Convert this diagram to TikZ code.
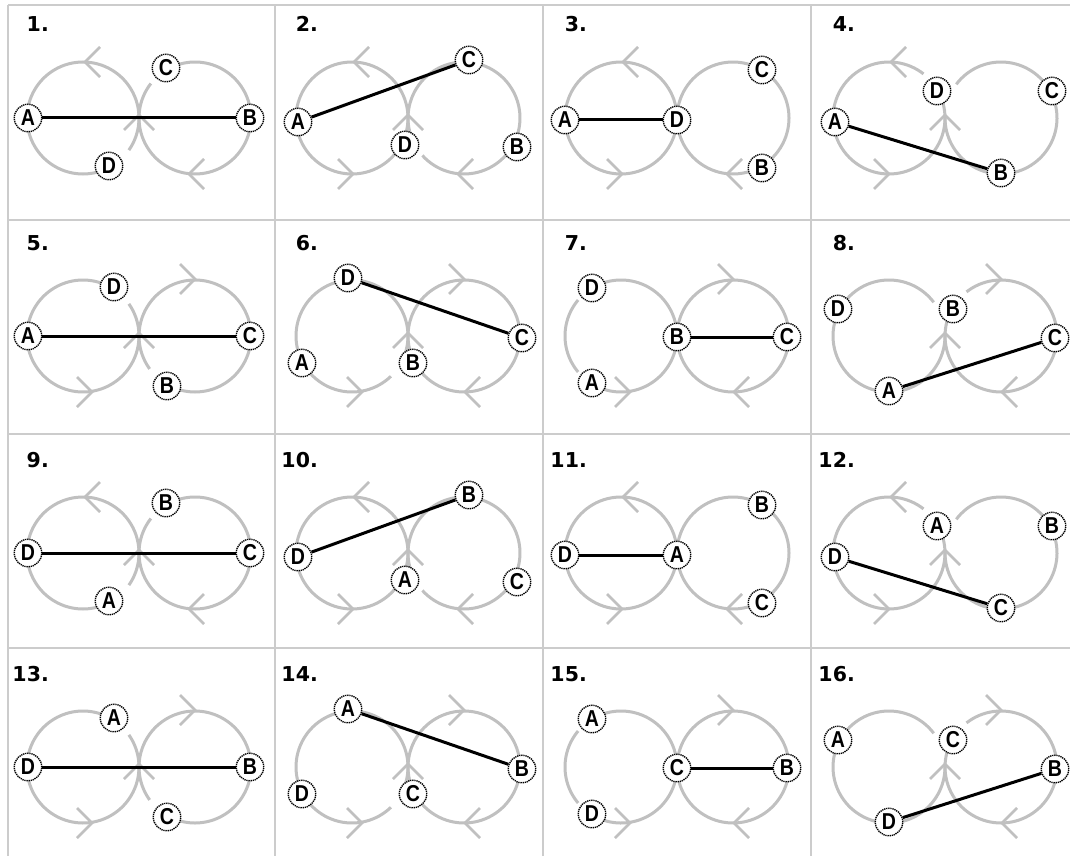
\documentclass[tikz,border=0pt]{standalone}
\usepackage{fontspec}
\newfontfamily\lsans{Liberation Sans}
\newfontfamily\dsans{DejaVu Sans}
\definecolor{trkgray}{RGB}{192,192,192}
\definecolor{gridgray}{RGB}{204,204,204}
\tikzset{
 trk/.style={draw=trkgray, line width=3pt},
 chv/.style={draw=trkgray, line width=2.6pt},
 gridln/.style={draw=gridgray, line width=1.5pt},
 blkline/.style={draw=black, line width=3pt},
 lab/.style={circle, draw=black, fill=white, line width=1.4pt, dash pattern=on 1.3pt off 0.8pt, minimum size=27.5pt, inner sep=0pt, font=\lsans\bfseries\fontsize{23}{23}\selectfont},
 num/.style={font=\dsans\bfseries\fontsize{20.5}{20.5}\selectfont, inner sep=0pt, anchor=base east, text=black}
}
% loop tracks (screen math angles)
\newcommand\trL[2]{\draw[trk] plot[domain=#1:#2,samples=91] ({\cX-56+56*cos(\x)},{\cY-56*sin(\x)});}
\newcommand\trR[2]{\draw[trk] plot[domain=#1:#2,samples=91] ({\cX+56+56*cos(\x)},{\cY-56*sin(\x)});}
% chevrons
\newcommand\chL[2]{\draw[chv] ({\cX+(#1)+15},{\cY+(#2)-15}) -- ({\cX+(#1)},{\cY+(#2)}) -- ({\cX+(#1)+15},{\cY+(#2)+15});}
\newcommand\chR[2]{\draw[chv] ({\cX+(#1)-15},{\cY+(#2)-15}) -- ({\cX+(#1)},{\cY+(#2)}) -- ({\cX+(#1)-15},{\cY+(#2)+15});}
\newcommand\chU{\draw[chv] ({\cX-15},{\cY+12}) -- ({\cX},{\cY-3}) -- ({\cX+15},{\cY+12});}
% labels and chord
\newcommand\mylab[3]{\node[lab] (c\cid#1) at ({\cX+(#2)},{\cY+(#3)}) {\scalebox{0.85}[1]{#1}};}
\newcommand\myline[2]{\draw[blkline] (c\cid#1) -- (c\cid#2);}
% layouts
\newcommand\tyone[4]{\trL{0}{300}\trL{325}{360}\trR{-180}{122}\trR{142}{180}%
 \chL{-54}{-56}\chL{50}{56}\chU
 \mylab{#1}{-111}{0}\mylab{#2}{111}{0}\mylab{#3}{27}{-50}\mylab{#4}{-30}{48}\myline{#1}{#2}}
\newcommand\tytwo[4]{\trL{0}{360}\trR{222}{570}%
 \chL{-54}{-56}\chR{-55}{56}\chL{50}{56}\chU
 \mylab{#1}{-110}{4}\mylab{#2}{61}{-58}\mylab{#3}{-3}{27}\mylab{#4}{109}{29}\myline{#1}{#2}}
\newcommand\tythree[4]{\trL{0}{360}\trR{0}{360}%
 \chL{-54}{-56}\chR{-55}{56}\chL{50}{56}
 \mylab{#1}{-112}{2}\mylab{#2}{0}{2}\mylab{#3}{85}{-48}\mylab{#4}{85}{50}\myline{#1}{#2}}
\newcommand\tyfour[4]{\trL{52}{390}\trR{-180}{143}%
 \chL{-54}{-56}\chR{-56}{56}\chU
 \mylab{#1}{-110}{4}\mylab{#2}{-8}{-27}\mylab{#3}{107}{-27}\mylab{#4}{56}{55}\myline{#1}{#4}}
\newcommand\tyfive[4]{\trL{0}{35}\trL{57}{360}\trR{180}{216}\trR{240}{540}%
 \chR{56}{-57}\chR{-47}{56}\chU
 \mylab{#1}{-111}{0}\mylab{#2}{111}{0}\mylab{#3}{-25}{-49}\mylab{#4}{28}{50}\myline{#1}{#2}}
\newcommand\tysix[4]{\trL{-30}{314}\trR{0}{360}%
 \chR{56}{-57}\chR{-46}{56}\chL{57}{56}\chU
 \mylab{#1}{-60}{-58}\mylab{#2}{114}{2}\mylab{#3}{-106}{27}\mylab{#4}{5}{27}\myline{#1}{#2}}
\newcommand\tyseven[4]{\trL{240}{480}\trL{140}{220}\trR{0}{360}%
 \chR{56}{-57}\chR{-47}{56}\chL{57}{56}
 \mylab{#1}{-85}{-48}\mylab{#2}{0}{1}\mylab{#3}{110}{1}\mylab{#4}{-85}{47}\myline{#2}{#3}}
\newcommand\tyeight[4]{\trL{37}{360}\trR{-210}{128}%
 \chR{56}{-57}\chL{57}{56}\chU
 \mylab{#1}{-107}{-27}\mylab{#2}{8}{-27}\mylab{#3}{110}{2}\mylab{#4}{-56}{55}\myline{#4}{#3}}
\newcommand\cellx[8]{\def\cid{#1}\def\cX{#2}\def\cY{#3}%
 \node[num] (n#1) at ({#2-90},{#3-86}) {#1.};
 \ifcase#4\or\tyone{#5}{#6}{#7}{#8}\or\tytwo{#5}{#6}{#7}{#8}\or\tythree{#5}{#6}{#7}{#8}\or\tyfour{#5}{#6}{#7}{#8}%
 \or\tyfive{#5}{#6}{#7}{#8}\or\tysix{#5}{#6}{#7}{#8}\or\tyseven{#5}{#6}{#7}{#8}\or\tyeight{#5}{#6}{#7}{#8}\fi}
\begin{document}
\begin{tikzpicture}[x=1pt,y=-1pt]
\useasboundingbox (0,0) rectangle (1070,856);
\fill[white] (0,0) rectangle (1070,856);
\clip (0,0) rectangle (1070,856);
% grid
\foreach \yy in {5,220,434,648} {\draw[gridln] (8,\yy) -- (1070,\yy);}
\foreach \xx in {8,275,543,811} {\draw[gridln] (\xx,5) -- (\xx,856);}
% cells
\cellx{1}{139}{118}{1}{A}{B}{C}{D}
\cellx{2}{408}{118}{2}{A}{C}{D}{B}
\cellx{3}{677}{118}{3}{A}{D}{C}{B}
\cellx{4}{945}{118}{4}{A}{D}{C}{B}
\cellx{5}{139}{336}{5}{A}{C}{D}{B}
\cellx{6}{408}{336}{6}{D}{C}{A}{B}
\cellx{7}{677}{336}{7}{D}{B}{C}{A}
\cellx{8}{945}{336}{8}{D}{B}{C}{A}
\cellx{9}{139}{553}{1}{D}{C}{B}{A}
\cellx{10}{408}{553}{2}{D}{B}{A}{C}
\cellx{11}{677}{553}{3}{D}{A}{B}{C}
\cellx{12}{945}{553}{4}{D}{A}{B}{C}
\cellx{13}{139}{767}{5}{D}{B}{A}{C}
\cellx{14}{408}{767}{6}{A}{B}{D}{C}
\cellx{15}{677}{767}{7}{A}{C}{B}{D}
\cellx{16}{945}{767}{8}{A}{C}{B}{D}
\end{tikzpicture}
\end{document}
